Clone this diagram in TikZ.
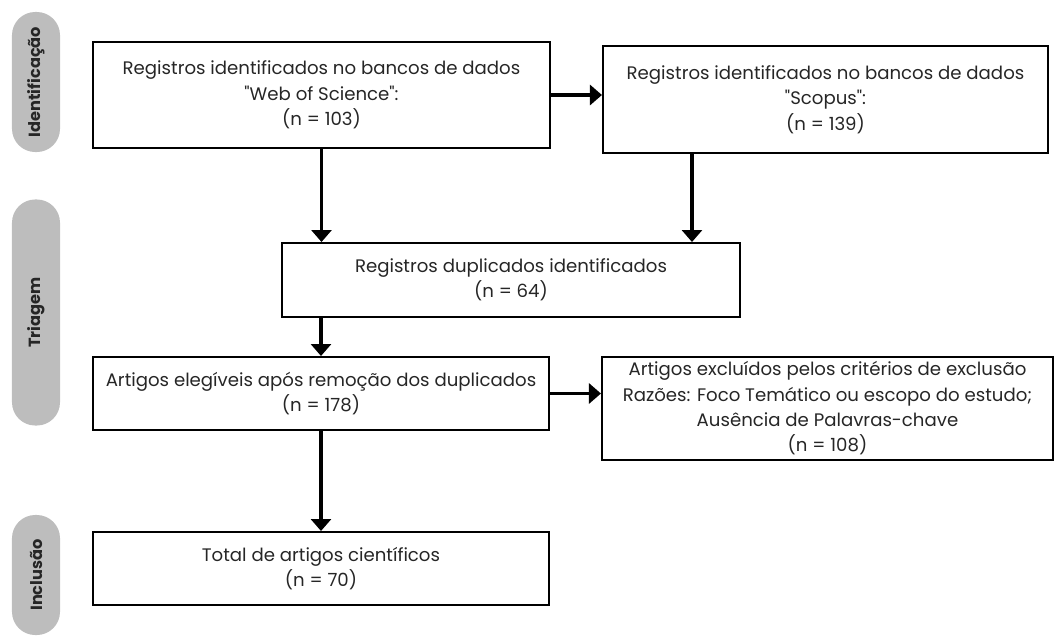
\documentclass[tikz,border=0pt]{standalone}
\usepackage{fontspec}
\setmainfont{Poppins}
\usetikzlibrary{arrows.meta}
\definecolor{pillgray}{HTML}{BDBDBD}
\definecolor{inkgray}{HTML}{262626}
\tikzset{
  phase/.style={fill=pillgray, rounded corners=0.58cm, rotate=90,
    minimum height=1.2cm, text=inkgray, font=\fontsize{11.5}{14}\selectfont\bfseries},
  box/.style={draw, line width=1.4pt, align=center, inner sep=2pt, text=inkgray,
    font=\fontsize{12.9}{18}\selectfont},
  flow/.style={line width=2.6pt, -{Triangle[width=0.5cm,length=0.3cm]}}
}
\begin{document}
\begin{tikzpicture}[x=0.025cm,y=-0.025cm]
  \useasboundingbox (0,0) rectangle (1056,639);

  % phases
  \node[phase, minimum width=3.5cm]   (ident) at (36,82)    {Identificação};
  \node[phase, minimum width=5.65cm]  (triag) at (36,312.5) {Triagem};
  \node[phase, minimum width=3.0cm]   (inclu) at (36,575)   {Inclusão};

  % boxes
  \node[box, minimum width=11.425cm, minimum height=2.65cm]  (wos)    at (321.5,95)
    {Registros identificados no bancos de dados\\\textquotedbl Web of Science\textquotedbl:\\(n = 103)};
  \node[box, minimum width=11.125cm, minimum height=2.675cm] (scopus) at (825.5,99.5)
    {Registros identificados no bancos de dados\\\textquotedbl Scopus\textquotedbl:\\(n = 139)};
  \node[box, minimum width=11.45cm, minimum height=1.85cm]   (dup)    at (511,280)
    {Registros duplicados identificados\\(n = 64)};
  \node[box, minimum width=11.4cm, minimum height=1.825cm]   (eleg)   at (321,393.5)
    {Artigos elegíveis após remoção dos duplicados\\(n = 178)};
  \node[box, minimum width=11.275cm, minimum height=2.575cm] (excl)   at (827.5,408.5)
    {Artigos excluídos pelos critérios de exclusão\\Razões: Foco Temático ou escopo do estudo;\\Ausência de Palavras-chave\\(n = 108)};
  \node[box, minimum width=11.4cm, minimum height=1.825cm]   (total)  at (321,568.5)
    {Total de artigos científicos\\(n = 70)};

  % arrows
  \draw[flow] (wos.east) -- (wos.east -| scopus.west);
  \draw[flow] (wos.south) -- (wos.south |- dup.north);
  \draw[flow] ([xshift=2.25cm]scopus.south west) -- ([xshift=2.25cm]scopus.south west |- dup.north);
  \draw[flow] (dup.south -| eleg.north) -- (eleg.north);
  \draw[flow] (eleg.east) -- (eleg.east -| excl.west);
  \draw[flow] (eleg.south) -- (total.north);

\end{tikzpicture}
\end{document}
